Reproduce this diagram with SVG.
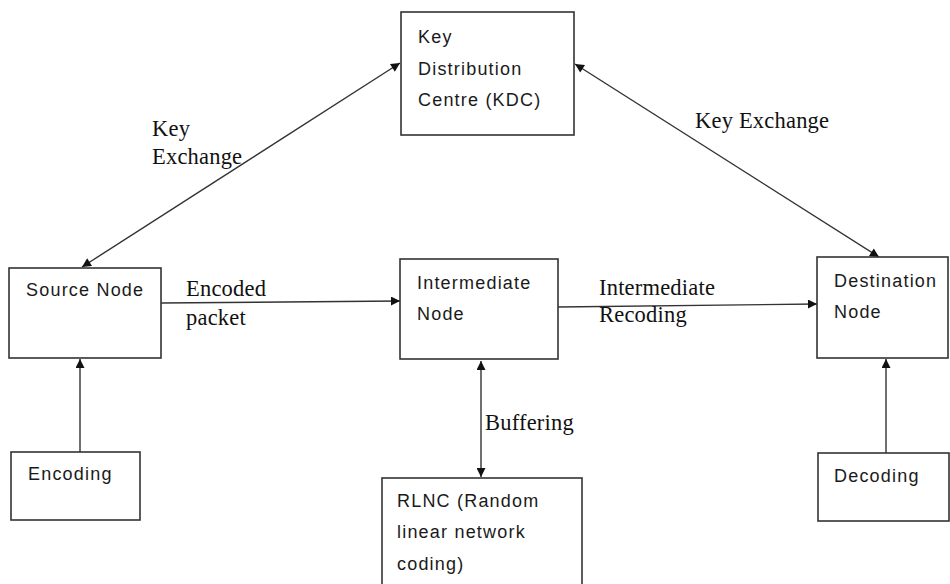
<svg xmlns="http://www.w3.org/2000/svg" width="950" height="584" viewBox="0 0 950 584">
<style>
.box{fill:#fff;stroke:#333;stroke-width:1.6}
.t{font-family:"Liberation Sans",Arial,sans-serif;font-size:18px;letter-spacing:1.2px;fill:#1a1a1a}
.s{font-family:"Liberation Serif","Times New Roman",serif;font-size:22.5px;letter-spacing:0.2px;fill:#111}
.c{fill:none;stroke:#333;stroke-width:1.4}
</style>
<defs>
<marker id="ah" viewBox="0 0 10 10" refX="10" refY="5" markerWidth="11" markerHeight="9" markerUnits="userSpaceOnUse" orient="auto-start-reverse">
<path d="M0,0 L10,5 L0,10 z" fill="#111"/>
</marker>
</defs>
<rect width="950" height="584" fill="#fff"/>
<g id="connectors">
<line class="c" x1="82" y1="267" x2="400" y2="63" marker-start="url(#ah)" marker-end="url(#ah)"/>
<line class="c" x1="575" y1="64" x2="879" y2="257" marker-start="url(#ah)" marker-end="url(#ah)"/>
<line class="c" x1="161" y1="303" x2="400" y2="301" marker-end="url(#ah)"/>
<line class="c" x1="558" y1="307" x2="817" y2="304" marker-end="url(#ah)"/>
<line class="c" x1="481" y1="361" x2="481" y2="477" marker-start="url(#ah)" marker-end="url(#ah)"/>
<line class="c" x1="80" y1="452" x2="80" y2="359" marker-end="url(#ah)"/>
<line class="c" x1="886" y1="453" x2="886" y2="359" marker-end="url(#ah)"/>
</g>
<g id="labels">
<text class="s" x="152" y="136">Key</text>
<text class="s" x="152" y="164">Exchange</text>
<text class="s" x="695" y="128">Key Exchange</text>
<text class="s" x="186" y="296">Encoded</text>
<text class="s" x="186" y="325">packet</text>
<text class="s" x="599" y="295">Intermediate</text>
<text class="s" x="599" y="322">Recoding</text>
<text class="s" x="485" y="430">Buffering</text>
</g>
<g id="kdc">
<rect class="box" x="401" y="12" width="173" height="123"/>
<text class="t" x="418" y="43">Key</text>
<text class="t" x="418" y="75">Distribution</text>
<text class="t" x="418" y="106">Centre (KDC)</text>
</g>
<g id="source">
<rect class="box" x="9" y="268" width="152" height="90"/>
<text class="t" x="26" y="296">Source Node</text>
</g>
<g id="intermediate">
<rect class="box" x="400" y="259" width="158" height="100"/>
<text class="t" x="417" y="289">Intermediate</text>
<text class="t" x="417" y="320">Node</text>
</g>
<g id="destination">
<rect class="box" x="817" y="257" width="131" height="101"/>
<text class="t" x="834" y="287">Destination</text>
<text class="t" x="834" y="318">Node</text>
</g>
<g id="encoding">
<rect class="box" x="11" y="452" width="129" height="68"/>
<text class="t" x="28" y="480">Encoding</text>
</g>
<g id="decoding">
<rect class="box" x="818" y="453" width="131" height="68"/>
<text class="t" x="834" y="482">Decoding</text>
</g>
<g id="rlnc">
<rect class="box" x="382" y="478" width="200" height="120"/>
<text class="t" x="397" y="507">RLNC (Random</text>
<text class="t" x="397" y="538">linear network</text>
<text class="t" x="397" y="570">coding)</text>
</g>
</svg>
